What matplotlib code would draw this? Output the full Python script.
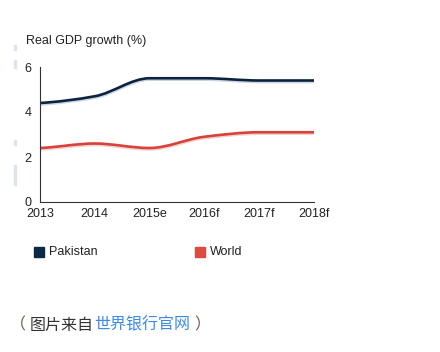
import numpy as np
import matplotlib
matplotlib.use("Agg")
import matplotlib.pyplot as plt
from matplotlib.path import Path
from matplotlib.patches import PathPatch, Rectangle

years = ["2013", "2014", "2015e", "2016f", "2017f", "2018f"]
pakistan = [4.4, 4.7, 5.5, 5.5, 5.4, 5.4]
world = [2.4, 2.6, 2.4, 2.9, 3.1, 3.1]

plt.rcParams['font.family'] = ['Liberation Sans', 'DejaVu Sans']

def smooth_path(xs, ys):
    #monotone bezier through the points
    xs = np.asarray(xs, float)
    ys = np.asarray(ys, float)
    n = len(xs)
    d = np.diff(ys) / np.diff(xs)
    m = np.zeros(n)
    for i in range(1, n - 1):
        if d[i - 1] * d[i] > 0:
            m[i] = 2 / (1 / d[i - 1] + 1 / d[i])
    m[0] = 0.5 * d[0]
    m[-1] = 0.5 * d[-1]
    verts = [(xs[0], ys[0])]
    codes = [Path.MOVETO]
    for i in range(n - 1):
        h = xs[i + 1] - xs[i]
        verts += [(xs[i] + h / 3, ys[i] + m[i] * h / 3),
                  (xs[i + 1] - h / 3, ys[i + 1] - m[i + 1] * h / 3),
                  (xs[i + 1], ys[i + 1])]
        codes += [Path.CURVE4] * 3
    return Path(verts, codes)

fig = plt.figure(figsize=(4.4, 3.52), dpi=100)
ax = fig.add_axes([40/440, 1-202/352, 274/440, 135/352])

x = np.arange(len(years))
for vals, col, sh in [(pakistan, "#0c2340", "#aab8cc"), (world, "#d9413b", "#e8b4b0")]:
    ax.add_patch(PathPatch(smooth_path(x, np.array(vals) - 0.05), fill=False, lw=2.4,
                           edgecolor=sh, alpha=0.6, capstyle="round"))
    ax.add_patch(PathPatch(smooth_path(x, vals), fill=False, lw=1.9,
                           edgecolor=col, capstyle="round"))

ax.set_xlim(0, len(years) - 1)
ax.set_ylim(0, 6)
ax.set_yticks([0, 2, 4, 6])
ax.set_xticks(x)
ax.set_xticklabels(years)
for s in ["top", "right"]:
    ax.spines[s].set_visible(False)
ax.spines["left"].set_color("#333333")
ax.spines["bottom"].set_color("#333333")
ax.tick_params(length=0, labelsize=9, colors="#222222")
ax.tick_params(axis="x", pad=4.5)
ax.tick_params(axis="y", pad=6)

fig.text(26/440, 1-41/352, "Real GDP growth (%)", fontsize=9, color="#222222", va="center")

# legend
fig.add_artist(Rectangle((34/440, 1-257/352), 10/440, 10/352, transform=fig.transFigure,
                         color="#0b2a4a"))
fig.text(49/440, 1-252/352, "Pakistan", fontsize=9, color="#222222", va="center")
fig.add_artist(Rectangle((195/440, 1-257/352), 10/440, 10/352, transform=fig.transFigure,
                         color="#dc4a40"))
fig.text(210/440, 1-252/352, "World", fontsize=9, color="#222222", va="center")

# faint page marks on the left edge
for y0, y1 in [(45, 50), (60, 68), (140, 145), (165, 185)]:
    fig.add_artist(Rectangle((14/440, 1-y1/352), 2/440, (y1-y0)/352,
                             transform=fig.transFigure, color="#dce4f2"))

# caption
cjk = ["Noto Sans CJK SC", "DejaVu Sans"]
cy = 1 - 325/352
fig.text(10/440, cy, "（", fontsize=11.5, color="#6e5a40", va="center", family=cjk)
fig.text(30/440, cy, "图片来自", fontsize=11.5, color="#333333", va="center", family=cjk)
fig.text(94/440, cy, "世界银行官网", fontsize=11.5, color="#3d8ae6", va="center", family=cjk)
fig.text(194/440, cy, "）", fontsize=11.5, color="#6e5a40", va="center", family=cjk)

fig.savefig("out.png", dpi=100)
